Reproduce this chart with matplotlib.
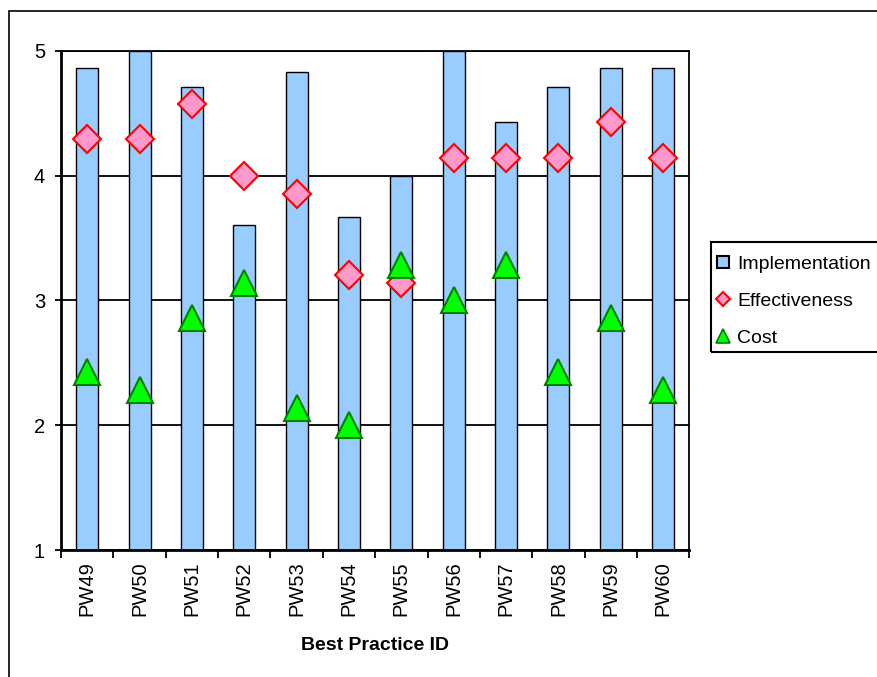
import numpy as np
import matplotlib.pyplot as plt
from matplotlib.lines import Line2D
from matplotlib.patches import Rectangle

plt.rcParams['font.family'] = ['Liberation Sans', 'DejaVu Sans']

practices = ["PW49", "PW50", "PW51", "PW52", "PW53", "PW54",
             "PW55", "PW56", "PW57", "PW58", "PW59", "PW60"]
implementation = [4.86, 5.00, 4.71, 3.60, 4.83, 3.67, 4.00, 5.00, 4.43, 4.71, 4.86, 4.86]
effectiveness = [4.29, 4.29, 4.57, 4.00, 3.85, 3.20, 3.14, 4.14, 4.14, 4.14, 4.43, 4.14]
cost = [2.43, 2.28, 2.86, 3.14, 2.14, 2.00, 3.28, 3.00, 3.28, 2.43, 2.86, 2.28]

W, H = 878, 677
fig = plt.figure(figsize=(W / 100, H / 100), dpi=100)
ax = fig.add_axes([61 / W, 1 - 550 / H, (689.3 - 61) / W, (550 - 50.7) / H])

x = np.arange(len(practices))
ax.bar(x, implementation, width=0.42, color="#99CCFF", edgecolor="black",
       linewidth=1.0, zorder=2)
ax.plot(x, effectiveness, linestyle="none", marker="D", markersize=14,
        markerfacecolor="#FF99CC", markeredgecolor="#FF0000",
        markeredgewidth=1.5, zorder=3)
ax.plot(x, cost, linestyle="none", marker="^", markersize=19,
        markerfacecolor="#00FF00", markeredgecolor="#008000",
        markeredgewidth=1.5, zorder=4)

ax.set_ylim(1, 5)
ax.set_xlim(-0.5, len(practices) - 0.5)
ax.set_yticks([1, 2, 3, 4, 5])
ax.yaxis.grid(True, color="black", linewidth=1.3, zorder=1)
ax.set_axisbelow(True)

ax.set_xticks(x)
ax.set_xticklabels(practices, rotation=90, fontsize=14.5)
ax.set_xticks(np.arange(len(practices) + 1) - 0.5, minor=True)
ax.tick_params(axis="x", which="major", length=0, pad=8)
ax.tick_params(axis="x", which="minor", length=6, width=1.3, direction="out")
ax.tick_params(axis="y", length=4.5, width=1.3, labelsize=14.5, pad=7)

for side in ("left", "bottom"):
    ax.spines[side].set_linewidth(2)
for side in ("top", "right"):
    ax.spines[side].set_linewidth(1.3)

ax.set_xlabel("Best Practice ID", fontsize=14, fontweight="bold", labelpad=15)

# chart area border, running off the right and bottom edges
fig.add_artist(Rectangle((9.3 / W, -0.1), 1.2, 1 - 11 / H + 0.1,
                         transform=fig.transFigure, fill=False,
                         edgecolor="black", linewidth=1.2))

# legend box, also cut off at the right edge
fig.add_artist(Rectangle((711 / W, 1 - 352 / H), 0.3, 110 / H,
                         transform=fig.transFigure, fill=False,
                         edgecolor="black", linewidth=1.5))

handles = [
    Line2D([], [], linestyle="none", marker="s", markersize=9,
           markerfacecolor="#99CCFF", markeredgecolor="black", markeredgewidth=1.5),
    Line2D([], [], linestyle="none", marker="D", markersize=7,
           markerfacecolor="#FF99CC", markeredgecolor="#FF0000", markeredgewidth=1.5),
    Line2D([], [], linestyle="none", marker="^", markersize=10,
           markerfacecolor="#00FF00", markeredgecolor="#008000", markeredgewidth=1.2),
]
fig.legend(handles, ["Implementation", "Effectiveness", "Cost"],
           loc="upper left", bbox_to_anchor=(715 / W, 1 - 255 / H),
           borderaxespad=0, borderpad=0, fontsize=14, frameon=False,
           handlelength=0.8, handletextpad=0.35, labelspacing=1.0)

fig.savefig("out.png", dpi=100)
